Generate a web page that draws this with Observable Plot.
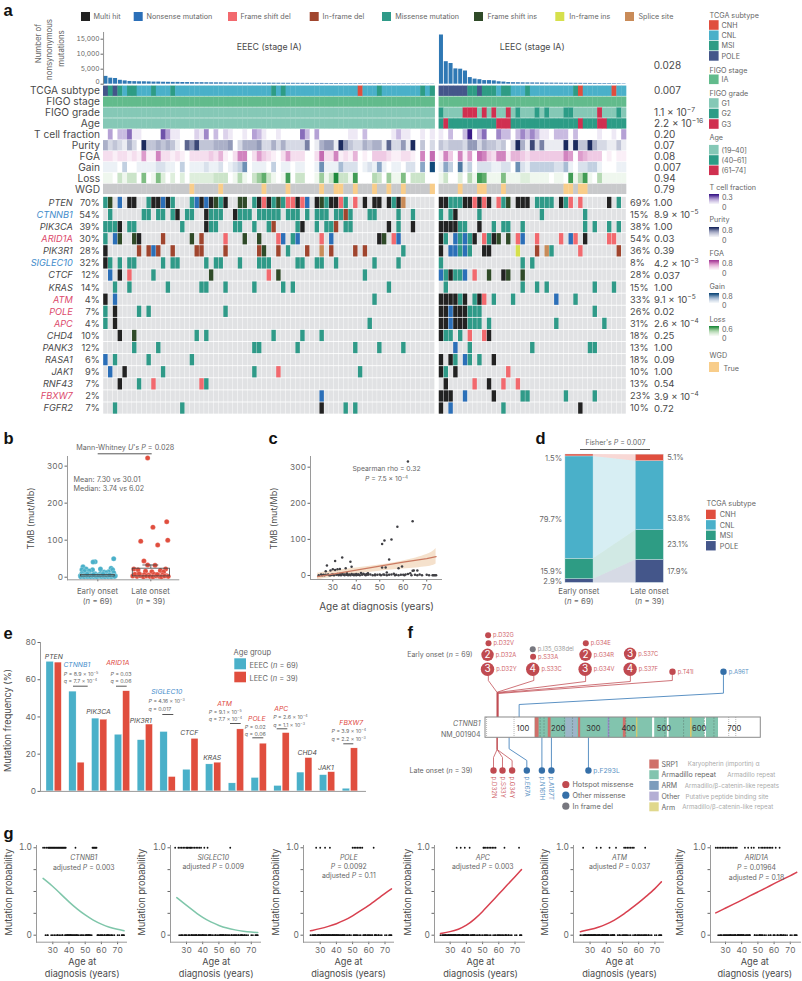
<!doctype html>
<html><head><meta charset="utf-8">
<script src="https://cdn.jsdelivr.net/npm/d3@7"></script>
<script src="https://cdn.jsdelivr.net/npm/@observablehq/plot@0.6"></script>
<style>
html,body{margin:0;padding:0;background:#fff}
#page{position:relative;width:802px;height:981px;overflow:hidden}
#page svg{position:absolute;overflow:visible}
</style></head><body><div id="page"></div>
<script>
const FONT = "Inter, 'Open Sans', sans-serif";
const GREY = "#4a4a4a", MID = "#666", AXIS = "#9a9a9a";

/* ---------- panel a data ---------- */
const mutationNames = ["Multi hit","Nonsense mutation","Frame shift del","In-frame del","Missense mutation","Frame shift ins","In-frame ins","Splice site"];
const mutationCodes = ["K","N","F","I","M","S","Y","P"];
const mutationColors = ["#222222","#2b6fb8","#f2696e","#a0452e","#2f9a88","#2f4a28","#d6e04c","#c98b58"];
const geneNames = ["PTEN","CTNNB1","PIK3CA","ARID1A","PIK3R1","SIGLEC10","CTCF","KRAS","ATM","POLE","APC","CHD4","PANK3","RASA1","JAK1","RNF43","FBXW7","FGFR2"];
const geneTone = ["g","b","g","r","g","b","g","g","r","r","r","g","g","g","g","g","r","g"];
const earlyPct = ["70%","54%","39%","30%","28%","32%","12%","14%","4%","7%","4%","10%","12%","6%","9%","7%","2%","7%"];
const latePct = ["69%","15%","38%","54%","36%","8%","28%","15%","33%","26%","31%","18%","13%","18%","10%","13%","23%","10%"];
const geneP = ["1.00","8.9 × 10^−5^","1.00","0.03","0.39","4.2 × 10^−3^","0.037","1.00","9.1 × 10^−5^","0.02","2.6 × 10^−4^","0.25","1.00","0.09","1.00","0.54","3.9 × 10^−4^","0.72"];
const earlyCalls = [
"0M 1S 3N 5K 6K 9M 10K 11K 12N 13K 14M 18M 19N 20K 21N 22K 23S 24M 25K 28S 29S 31M 32K 33F 34K 35M 36S 37M 38F 39F 40K 41F 42N 44K 45S 46M 47K 48K 49F 50M 52F 54K 56K 57K 59K 60M 61K 62P",
"1M 8M 9M 11M 12M 14M 15K 17M 18M 21K 22M 23M 24M 27K 28M 29M 30M 32M 33M 34M 35M 36M 38M 39M 40M 42M 44M 45M 46M 48M 49M 50I 51M 55M 56M 61M 64M",
"0M 1M 2M 3K 5M 6M 16M 21K 22M 23M 27M 28M 31M 34M 35I 40M 41K 44M 46M 47M 48I 50M 51M 59K 61M 64K",
"0M 2N 3S 6S 7K 12I 18S 20I 25F 29S 32S 36F 37N 39M 40N 45F 47N 57K 58S 60F 61N",
"0K 7I 9I 10N 11I 14I 19I 20I 25I 32I 33S 36I 38M 42I 45P 47I 52I 54I 62M",
"0K 1M 3M 5M 6M 12M 14M 15M 21M 23M 24M 28M 32M 33M 34M 40M 41M 44M 45M 48M 56M 61M",
"1N 3K 5F 10M 22S 34F 36S 54M",
"2M 5M 13M 20M 21M 25M 31M 37M 39M 59M",
"0K 2N 56M","0M 2K 7M 9M 25M","0M 2K 55M",
"3K 6S 19M 21M 35M 41M 45M","6M 11M 31M 32M 40M 52M 57M 62M","0N 2M 9M 18M",
"1N 4K 12M 31M 36F 53M","3K 7M 10F 20F 21M","45N","2M 16M 45K 50M 52M"];
const lateCalls = [
"0K 1K 2M 3M 4M 5K 6K 7F 8K 9F 10K 12F 13M 14S 16K 17K 18K 20M 21M 22M 23M 25K 26M 27F 29F 35K 37M",
"0M 2M 3K 8M 21M 30M",
"0K 1K 2K 3K 4M 5M 8K 11M 13M 14M 17M 30M 32M 35M 37M",
"0K 1M 3N 4M 5N 6M 7K 9F 10M 11K 12S 14S 16F 17N 20F 25F 27N 28F 30K 35F 36F",
"0K 2N 3N 4M 5N 6M 9K 10K 16Y 20I 22P 23M 29F 37I",
"0M 17M 19M",
"0N 1M 2K 3M 4M 5N 7F 10S 13K 14S 17S",
"1M 17M 20M 22M 32M 36M",
"0K 1K 2K 3K 4M 5K 7M 8K 9F 11M 15M 24N 28M",
"0K 1K 2N 3K 4K 5K 6M 7M 8M 32M",
"0K 1K 2N 3K 4K 5K 6M 7M 8M 10M 24M 34M",
"0K 1M 2M 4M 6F 9F 10K",
"3N 6M 19M 31M 32M",
"0K 2K 3M 5N 6M 8M 11K",
"0K 1M 3K 14F",
"1K 7F 10K 13F 16F",
"0K 1K 2K 5N 11K 17M 18M 26M 32M",
"0K 2N 13M 29K"];
const earlyCounts = [2600,2000,1900,1300,1100,900,850,800,800,750,700,700,650,620,600,600,560,550,520,500,500,480,460,450,450,430,420,400,400,390,380,370,360,350,340,330,320,310,300,300,290,280,270,260,250,250,240,230,220,210,200,200,190,190,180,170,170,160,150,150,140,130,130,120,110,100,100,90,80];
const lateCounts = [16400,7500,6900,5100,5000,4400,2200,1700,1500,1200,1200,1100,800,700,550,500,480,450,430,420,400,380,360,350,340,320,310,300,290,280,260,250,240,220,210,200,180,160,130];
const trackNames = ["TCGA subtype","FIGO stage","FIGO grade","Age","T cell fraction","Purity","FGA","Gain","Loss","WGD"];
const trackP = ["0.007","","1.1 × 10^−7^","2.2 × 10^−16^","0.20","0.07","0.08","0.007","0.94","0.79"];
const subtypeEarly = "0P 1M 2P 3M 5M 6M 10M 14M 35M 37M 53H 57M 66M 68M";
const subtypeLate = "0P 1P 2P 3P 4P 5P 6M 7M 8P 9M 10M 11M 13M 14M 18M 28M 29H 36H";
const gradeLate = "0B 5C 6C 7C 9C 11C 14C 16B 20B 22B 26B 27B 33C 37B";
const ageLate = "0B 1C 12C 13C 14C 29C 33C 34C";
const wgdEarly = [18,24,33,38,45,48,49,52,56,59,62,68];
const wgdLate = [4,8,9,13,26,27,29,30];
const tcellLevels = ["040336110000741100021503021001043100100006304000000110300000131100101","103003903600533035353110333030000100104"];
const purityLevels = ["423214209334343107583334445024445224242222601455195322434417225190302","323332552433230294182611119193394221131"];
const fgaLevels = ["221221215116221210222232410266025321025222002722612140103332112210607","163061507632661443233333336505433301011"];
const gainLevels = ["111030011112211030111211201236011103011011001611142220121510110220509","153071302221122062133333224102233100011"];
const lossLevels = ["110313306016202020222223330141035731018033001513933180004305116033300","130020418711161112211110110814810411111"];
const subtypeNames = ["CNH","CNL","MSI","POLE"];
const subtypeColors = ["#e04e3e","#4ab0c9","#2e9c84","#44568a"];
const gradeColors = ["#85c8b6","#2c9c86","#d03050"];
const stageColor = "#62bb8c";
const ramps = {
  tcell:["#ffffff","#cbbde2","#8a6cbc","#3a1a88"],
  purity:["#ffffff","#c2c6d8","#7e86aa","#1c2a5e"],
  fga:["#ffffff","#f1cfe6","#d483bf","#a63c98"],
  gain:["#ffffff","#c8d4e4","#6d90b8","#124a7a"],
  loss:["#ffffff","#d0e6cc","#84c184","#1f8a3e"]
};

/* ---------- panel b / c data ---------- */
const earlyJitter = [0.30,-0.05,-0.09,-0.28,-0.22,0.05,-0.30,-0.10,0.25,0.28,-0.25,-0.16,0.12,0.20,0.30,0.16,-0.30,-0.18,-0.05,0.05,-0.33,-0.30,-0.27,-0.24,-0.21,-0.18,-0.15,-0.12,-0.09,-0.06,-0.03,0,0.03,0.06,0.09,0.12,0.15,0.18,0.21,0.24,0.27,0.30,0.33,-0.32,-0.28,-0.25,-0.22,-0.19,-0.16,-0.13,-0.10,-0.07,-0.04,-0.01,0.02,0.05,0.08,0.11,0.14,0.17,0.20,0.23,0.26,0.29,0.32,-0.20,-0.08,0.10,0.22];
const earlyTMB = [50,42,41,28,22,22,20,20,24,20,16,17,14,15,12,12,10,10,9,10,4,5,3,6,4,7,3,5,6,2,4,5,3,6,2,5,3,7,4,2,5,3,4,1,2,1,3,1,2,1,3,1,2,1,3,2,1,2,1,3,1,2,1,3,2,8,7,8,6];
const lateJitter = [-0.06,0.30,0.04,0.32,-0.19,0.13,-0.13,-0.06,0.08,-0.32,0.28,-0.24,0.18,-0.10,0.02,0.24,-0.28,-0.18,-0.12,-0.04,0.06,0.14,0.22,0.30,-0.34,-0.26,-0.20,-0.14,-0.08,-0.02,0.04,0.10,0.16,0.20,0.26,0.33,-0.30,-0.22,0.12];
const lateTMB = [322,150,135,100,97,87,44,33,32,22,22,20,18,16,15,14,6,5,7,6,8,5,6,4,3,2,4,1,3,2,1,3,2,1,3,2,8,9,7];
const boxEarly = [1.8,6.2], boxLate = [2.2,23];
const cAges = [24,25,25.5,26,26.5,27,27.5,28,28.5,29,29.5,30,30,30.5,31,31,31.5,32,32,32.5,33,33,33.5,34,34,34.5,35,35,35.5,36,36,36.5,37,37.5,37.5,38,38,38.5,39,39,39.5,40,40,40.5,41,41.5,42,42.5,43,43.5,44,44.5,45,45,46,47,48,49,50,50.5,51,51,51.5,52,52,52.5,53,53,54,54,55,55,56,56.5,57,57.5,58,58,59,59.5,60,60.5,61,62,62,63,63.5,64,64,64.5,65,66,66,67,68,70,71,72.5,73,73.5,74,27,29,33,36,41,44,48];
const cTMB = [1,3,1,2,0.5,12,28,3,1,14,2,17,3,1,40,15,2,17,4,1,18,3,1,50,5,2,3,1,20,2,6,1,3,38,1,24,4,2,3,1,2,4,1,2,3,1,7,2,5,3,2,4,6,2,3,1,1,2,3,1,87,22,3,97,2,22,1,8,44,2,100,3,5,1,2,135,20,1,2,25,2,1,3,316,4,6,1,150,13,14,2,14,1,3,1,2,1,0.5,1,1,1,2,1,4,3,2,1,3];
const fitAges = [23.5,30,40,50,60,70,74];
const fitMean = [-3,4,15,26,37,47,52];
const fitLow = [-12,-5,4,12,18,24,32];
const fitHigh = [6,13,21,29,40,58,75];

/* ---------- panel d ---------- */
const stackOrder = ["POLE","MSI","CNL","CNH"];
const earlyShares = [2.9,15.9,79.7,1.5];
const lateShares = [17.9,23.1,53.8,5.1];

/* ---------- panel e ---------- */
const eGenes = ["PTEN","CTNNB1","PIK3CA","ARID1A","PIK3R1","SIGLEC10","CTCF","KRAS","ATM","POLE","APC","CHD4","JAK1","FBXW7"];
const eEarly = [69.6,53.6,39.1,30.4,27.5,31.9,11.6,14.5,4.3,7.2,2.9,10.1,8.7,1.4];
const eLate = [69.2,15.4,38.5,53.8,35.9,7.7,28.2,15.4,33.3,25.6,31.3,17.9,10.3,23.1];

/* ---------- panel f ---------- */
const heads = [
 {t:"p.D32G",x:7.4,y:634.7,r:3,k:"h"},{t:"p.D32V",x:8.5,y:642.7,r:3,k:"h"},{t:"p.D32A",x:5.7,y:654.3,r:6.2,n:"2",k:"h"},{t:"p.D32Y",x:5.7,y:668.7,r:6.7,n:"3",k:"h"},
 {t:"p.I35_G38del",x:134,y:648.7,r:3,k:"d"},{t:"p.S33A",x:135,y:656.3,r:3,k:"h"},{t:"p.S33C",x:134,y:668.7,r:6.7,n:"4",k:"h"},
 {t:"p.G34E",x:284.5,y:642.7,r:3,k:"h"},{t:"p.G34R",x:283.7,y:654.3,r:6.2,n:"2",k:"h"},{t:"p.G34V",x:282.6,y:668.7,r:6.7,n:"3",k:"h"},
 {t:"p.S37C",x:410.2,y:653.3,r:6.2,n:"3",k:"h"},{t:"p.S37F",x:410.2,y:668.7,r:6.7,n:"4",k:"h"},
 {t:"p.T41I",x:530.5,y:671.3,r:3.2,k:"h"},{t:"p.A96T",x:675.2,y:671.3,r:3.2,k:"o"}];
const lateHeads = [
 {t:"p.D32N",x:22.7,k:"h"},{t:"p.S33Y",x:48.2,k:"h"},{t:"p.G34Y",x:75.5,k:"h"},
 {t:"p.E67A",x:117.2,k:"o"},{t:"p.N161H",x:160,k:"o"},{t:"p.A187T",x:187,k:"o"},{t:"p.F293L",x:292,k:"o"}];
const hotspotColor = "#c04a50", otherColor = "#356fa8", delColor = "#77777f";
const redRoutes = [[[8,675],[8,680],[33,692],[33,717]],[[137,675],[137,680],[33,691.7],[33,717]],[[284,675],[284,681],[34,692],[34,717]],[[411,675],[411,681],[35,692.5],[35,717]],[[530,675],[530,680],[36,693],[36,717]],
  [[33,737],[33,749],[22.7,757],[22.7,770]],[[33,737],[33,749],[48.2,757],[48.2,770]],[[33,737],[33,749],[75.5,760],[75.5,770]]];
const blueRoutes = [[[675,675],[675,692.7],[95.4,704],[95.4,717]],[[67,737],[67,748.3],[117.2,760],[117.2,770]],[[160,737],[160,770]],[[187,737],[187,770]],[[292,737],[292,770]]];
const armSpans = [[141,474],[480,516],[521,622],[627,661]];
const srpSpans = [[141,152],[178,186],[264,270],[391,399]];
const armBlue = [[228,245],[245,261]];
const otherMarks = [[348,352]];
const armYellow = [[429,432],[582,586]];
const darkMarks = [155,166,224,247,350,398,509,562,621,648];
const dottedMarks = [3,81,690,710];
const aaTicks = [100,200,300,400,500,600,700];
const domainLegend = [["SRP1","Karyopherin (importin) α","#d0706a",687.3],["Armadillo repeat","Armadillo repeat","#82c4ae",726.7],["ARM","Armadillo/β-catenin-like repeats","#7c9cbc",684.3],["Other","Putative peptide binding site","#b4aed4",685],["Arm","Armadillo/β-catenin-like repeat","#e0d88c",681.7]];

/* ---------- panel g ---------- */
const curveAges = [24,30,35,40,45,50,55,60,65,70,74];
const gGenes = ["CTNNB1","SIGLEC10","POLE","APC","ATM","ARID1A"];
const gCurves = [
 [.65,.56,.47,.38,.30,.23,.17,.125,.09,.066,.05],
 [.43,.34,.27,.20,.15,.11,.08,.06,.045,.035,.03],
 [.05,.075,.10,.13,.17,.22,.28,.34,.41,.48,.53],
 [.02,.04,.065,.11,.18,.27,.37,.47,.57,.67,.75],
 [.04,.065,.09,.125,.17,.23,.30,.37,.45,.53,.61],
 [.255,.31,.355,.40,.45,.495,.54,.59,.635,.68,.72]];
const gColors = ["#7fc6aa","#7fc6aa","#d8404f","#d8404f","#d8404f","#d8404f"];
const gMutated = [
 [24,25,26,27,27.5,28,28.5,29,29.5,30,30.5,31,31.5,32,32.5,33,33.5,34,34.5,35,35.5,36,36.5,37,37.5,38,44,54.5,55,55.5,56,56.5,57],
 [23,25,26,27,28,29,30,30.5,31,32,32.5,33,34,35,36,37,38,39,41,43,57],
 [27.5,30,33,36,50,51,52,53,54,55,56,63],
 [34,36.5,39,42,50.5,51,52,53,54,55,56,57,58,63.5,72.5],
 [25.7,34,36.6,42,46,51,52,53,54,55,56,57,64],
 [24,25,26,27,28,29,30,31,32,33,34,35,36,37,42,44,46,47.5,50.6,52,53,54,55,56,57,58,59,61,63.4]];
const gAxisX = [35.7,170,303.3,434.3,572.7,710];
const gX30 = [52,186,320,450,589.3,725];

/* ---------- helpers ---------- */
const page = document.getElementById("page");
function rich(svg){
  svg.querySelectorAll("text,tspan").forEach(n=>{
    if(n.children.length) return;
    const s=n.textContent; if(!/[~^]/.test(s)) return;
    n.textContent=""; let it=false,sup=false;
    s.split(/([~^])/).forEach(p=>{
      if(p==="~"){it=!it;return} if(p==="^"){sup=!sup;return} if(!p) return;
      const t=document.createElementNS("http://www.w3.org/2000/svg","tspan");
      t.textContent=p;
      if(it) t.setAttribute("font-style","italic");
      if(sup){t.setAttribute("baseline-shift","super");t.setAttribute("font-size","68%")}
      n.appendChild(t);
    });
  });
}
function place(frame,pad,opts){
  const [x0,y0,x1,y1]=frame,[l,t,r,b]=pad;
  const svg=Plot.plot({width:x1-x0+l+r,height:y1-y0+t+b,marginLeft:l,marginTop:t,marginRight:r,marginBottom:b,...opts,
    style:{background:"transparent",fontFamily:FONT,color:MID,overflow:"visible"}});
  svg.style.left=(x0-l)+"px"; svg.style.top=(y0-t)+"px";
  page.appendChild(svg); rich(svg); return svg;
}
const parseCalls=(s)=>s.split(" ").filter(Boolean).map(w=>[+w.match(/\d+/)[0],w.replace(/\d+/,"")]);
const N1=69,N2=39,GAP=0.83;
const colL=(g,c)=>g===0?c:N1+GAP+c;

/* ---------- panel a: bars ---------- */
const barData=[...earlyCounts.map((v,i)=>({c:colL(0,i),v})),...lateCounts.map((v,i)=>({c:colL(1,i),v}))];
const colDomain=[0,N1+GAP+N2];
place([102.7,32,625.7,83.7],[40,2,4,2],{
  x:{domain:colDomain,axis:null},y:{domain:[0,17233],axis:null},
  marks:[
    Plot.rectY(barData,{x1:"c",x2:d=>d.c+1,y1:0,y2:"v",fill:"#2f78b4",insetLeft:.4,insetRight:.4}),
    Plot.axisY({ticks:[0,5000,10000,15000],tickFormat:d=>d===0?"":d3.format(",")(d),tickSize:2.5,tickPadding:1.5,fontSize:6.6,label:null}),
    Plot.text([0],{y:d=>d,text:d=>String(d),frameAnchor:"left",textAnchor:"end",dx:-4,dy:-2.5,fontSize:6.6,fill:MID}),
    Plot.frame({anchor:"left",stroke:"#777",strokeWidth:.8})
  ]});

/* ---------- panel a: annotation tracks ---------- */
const trackCells=[];
function addTrack(track,col,fill){trackCells.push({track,col,fill})}
const subtypeFill={H:subtypeColors[0],C:subtypeColors[1],M:subtypeColors[2],P:subtypeColors[3]};
function expand(n,def,str){const a=Array(n).fill(def);parseCalls(str).forEach(([i,k])=>a[i]=k);return a}
[[expand(N1,"C",subtypeEarly),0],[expand(N2,"C",subtypeLate),1]].forEach(([a,g])=>a.forEach((k,i)=>addTrack("TCGA subtype",colL(g,i),subtypeFill[k])));
for(const [n,g] of [[N1,0],[N2,1]]) for(let i=0;i<n;i++) addTrack("FIGO stage",colL(g,i),stageColor);
const grFill={A:gradeColors[0],B:gradeColors[1],C:gradeColors[2]};
for(let i=0;i<N1;i++){addTrack("FIGO grade",i,gradeColors[0]);addTrack("Age",i,gradeColors[0])}
expand(N2,"A",gradeLate).forEach((k,i)=>addTrack("FIGO grade",colL(1,i),grFill[k]));
expand(N2,"B",ageLate).forEach((k,i)=>addTrack("Age",colL(1,i),grFill[k]));
[["T cell fraction",tcellLevels,ramps.tcell],["Purity",purityLevels,ramps.purity],["FGA",fgaLevels,ramps.fga],["Gain",gainLevels,ramps.gain],["Loss",lossLevels,ramps.loss]].forEach(([name,lv,ramp])=>{
  const f=d3.interpolateRgbBasis(ramp);
  lv.forEach((s,g)=>[...s].forEach((ch,i)=>addTrack(name,colL(g,i),f(+ch/9))));
});
for(let i=0;i<N1;i++) addTrack("WGD",i,wgdEarly.includes(i)?"#f8cd8a":"#c8c9cb");
for(let i=0;i<N2;i++) addTrack("WGD",colL(1,i),wgdLate.includes(i)?"#f8cd8a":"#c8c9cb");
place([102.7,84.5,625.7,194.1],[100,2,120,2],{
  x:{domain:colDomain,axis:null},y:{domain:trackNames,axis:null,padding:.05,round:false},
  marks:[
    Plot.barX(trackCells,{x1:"col",x2:d=>d.col+1.07,y:"track",fill:"fill"}),
    Plot.text(trackNames,{y:d=>d,text:d=>d,frameAnchor:"left",textAnchor:"end",dx:-3.5,fontSize:10.2,fill:GREY}),
    Plot.text(trackNames.map((d,i)=>({d,p:trackP[i]})),{y:"d",text:"p",frameAnchor:"right",textAnchor:"start",dx:27.6,fontSize:10,fill:GREY})
  ]});

/* ---------- panel a: oncoplot ---------- */
const bg=[],hits=[];
geneNames.forEach((gene,r)=>{
  for(let i=0;i<N1;i++) bg.push({gene,col:i});
  for(let i=0;i<N2;i++) bg.push({gene,col:colL(1,i)});
  const code=k=>mutationColors[mutationCodes.indexOf(k)];
  parseCalls(earlyCalls[r]).forEach(([i,k])=>hits.push({gene,col:i,fill:code(k)}));
  parseCalls(lateCalls[r]).forEach(([i,k])=>hits.push({gene,col:colL(1,i),fill:code(k)}));
});
const toneColor={g:"#4a4a4a",b:"#3f8ccb",r:"#dc4a6c"};
const geneRows=geneNames.map((gene,i)=>({gene,c:toneColor[geneTone[i]],a:earlyPct[i],b:latePct[i],p:geneP[i],it:"~"+gene+"~"}));
place([102.7,195.9,625.7,414.4],[100,2,120,2],{
  x:{domain:colDomain,axis:null},y:{domain:geneNames,axis:null,padding:.07,round:false},
  marks:[
    Plot.barX(bg,{x1:"col",x2:d=>d.col+1,y:"gene",fill:"#e1e2e4",insetLeft:.2,insetRight:.2}),
    Plot.barX(hits,{x1:"col",x2:d=>d.col+1,y:"gene",fill:"fill",insetLeft:.2,insetRight:.2}),
    Plot.text(geneRows,{y:"gene",text:"it",fill:"c",frameAnchor:"left",textAnchor:"end",dx:-30.7,fontSize:9.2}),
    Plot.text(geneRows,{y:"gene",text:"a",frameAnchor:"left",textAnchor:"end",dx:-3.7,fontSize:9.2,fill:GREY}),
    Plot.text(geneRows,{y:"gene",text:"b",frameAnchor:"right",textAnchor:"start",dx:3.6,fontSize:9.2,fill:GREY}),
    Plot.text(geneRows,{y:"gene",text:"p",frameAnchor:"right",textAnchor:"start",dx:27.6,fontSize:9.6,fill:GREY})
  ]});

/* ---------- panel b ---------- */
const bPoints=[...earlyTMB.map((v,i)=>({x:earlyJitter[i],v,f:subtypeColors[1]})),...lateTMB.map((v,i)=>({x:1+lateJitter[i],v,f:subtypeColors[0]}))];
place([66.7,456,178,579.3],[34,2,4,16],{
  x:{domain:[-0.572,1.528],axis:null},y:{domain:[-7,326],axis:null},
  marks:[
    Plot.dot(bPoints,{x:"x",y:"v",r:2.5,fill:"f",stroke:"#fff",strokeWidth:.2}),
    Plot.rect([{a:-.32,b:.32,l:boxEarly[0],h:boxEarly[1]},{a:.66,b:1.36,l:boxLate[0],h:boxLate[1]}],{x1:"a",x2:"b",y1:"l",y2:"h",stroke:"#444",strokeWidth:.8}),
    Plot.ruleY([33],{x1:.85,x2:1.15,stroke:"#444",strokeWidth:.8}),
    Plot.ruleX([1],{y1:23,y2:33,stroke:"#444",strokeWidth:.8}),
    Plot.axisY({ticks:[0,100,200,300],tickSize:2.5,tickPadding:2,fontSize:8.2,label:null}),
    Plot.axisX({ticks:[0,1],tickFormat:()=>"",tickSize:2}),
    Plot.frame({anchor:"left",stroke:AXIS,strokeWidth:1}),Plot.frame({anchor:"bottom",stroke:AXIS,strokeWidth:1})
  ]});

/* ---------- panel c ---------- */
const cPts=cAges.map((a,i)=>({a,v:cTMB[i]}));
const fit=fitAges.map((a,i)=>({a,m:fitMean[i],l:fitLow[i],h:fitHigh[i]}));
place([310,456,441,579],[34,2,4,16],{
  x:{domain:[20.5,76.3],axis:null},y:{domain:[-11.1,329.6],axis:null},
  marks:[
    Plot.areaY(fit,{x:"a",y1:"l",y2:"h",fill:"#f3dcc3",fillOpacity:.85,curve:"natural"}),
    Plot.dot(cPts,{x:"a",y:"v",r:1.25,fill:"#3f3f44"}),
    Plot.line(fit,{x:"a",y:"m",stroke:"#cb7a62",strokeWidth:1.3}),
    Plot.axisY({ticks:[0,100,200,300],tickSize:2.5,tickPadding:2,fontSize:8.2,label:null}),
    Plot.axisX({ticks:[30,40,50,60,70],tickSize:2.5,tickPadding:2,fontSize:8.2,label:null}),
    Plot.frame({anchor:"left",stroke:AXIS,strokeWidth:1}),Plot.frame({anchor:"bottom",stroke:AXIS,strokeWidth:1})
  ]});

/* ---------- panel d ---------- */
const subtypeColorOf=Object.fromEntries(subtypeNames.map((s,i)=>[s,subtypeColors[i]]));
const dBars=[],dFlows=[];
let e0=0,l0=0;
stackOrder.forEach((s,i)=>{
  const e1=e0+earlyShares[i],l1=l0+lateShares[i];
  dBars.push({s,a:-.2,b:.2,y1:e0,y2:e1},{s,a:.8,b:1.2,y1:l0,y2:l1});
  dFlows.push({s,x:.2,y1:e0,y2:e1},{s,x:.8,y1:l0,y2:l1});
  e0=e1;l0=l1;
});
place([560,454.3,668,582.7],[4,2,4,4],{
  x:{domain:[-.27,1.266],axis:null},y:{domain:[0,100],axis:null},
  marks:[
    Plot.areaY(dFlows,{x:"x",y1:"y1",y2:"y2",z:"s",fill:d=>subtypeColorOf[d.s],fillOpacity:.22}),
    Plot.rect(dBars,{x1:"a",x2:"b",y1:"y1",y2:"y2",fill:d=>subtypeColorOf[d.s],stroke:"#d7e8ee",strokeWidth:.4})
  ]});

/* ---------- panel e ---------- */
const eBars=eGenes.flatMap((g,i)=>[{a:i,b:i+.32,v:eEarly[i],f:subtypeColors[1]},{a:i+.365,b:i+.67,v:eLate[i],f:subtypeColors[0]}]);
place([40,642.3,365,791.2],[30,2,2,4],{
  x:{domain:[-.263,14.0],axis:null},y:{domain:[0,80],axis:null},
  marks:[
    Plot.rectY(eBars,{x1:"a",x2:"b",y1:0,y2:"v",fill:"f",stroke:"#fff",strokeWidth:.3}),
    Plot.axisY({ticks:[0,20,40,60,80],tickSize:2.5,tickPadding:2,fontSize:8.2,label:null}),
    Plot.frame({anchor:"left",stroke:AXIS,strokeWidth:1}),Plot.frame({anchor:"bottom",stroke:AXIS,strokeWidth:1})
  ]});

/* ---------- panel f ---------- */
const kindColor={h:hotspotColor,o:otherColor,d:delColor};
const textColor={h:"#d0666b",o:"#5b92c4",d:"#999"};
const routeRows=(rs,c)=>rs.flatMap((r,i)=>r.map(([x,y])=>({x,y,id:c+i,c})));
const spanRect=(sp,fill)=>sp.map(([a,b])=>({a,b,fill}));
const protein=[...spanRect(armSpans,"#82c4ae"),...spanRect(armBlue,"#9db5c9"),...spanRect(srpSpans,"#d0706a"),...spanRect(otherMarks,"#9b8fd0"),...spanRect(armYellow,"#e8c860")];
const numHeads=heads.filter(d=>d.n);
const lateRows=lateHeads.map(d=>({...d,y:770,r:3.2}));
const fY0=717,fY1=737.3;
place([484.7,625,760,812],[10,2,2,2],{
  x:{domain:[0,781],axis:null},y:{domain:[812,625],axis:null},r:{type:"identity"},
  marks:[
    Plot.line(routeRows(redRoutes,"r"),{x:"x",y:"y",z:"id",stroke:hotspotColor,strokeWidth:.9,strokeOpacity:.85}),
    Plot.line(routeRows(blueRoutes,"b"),{x:"x",y:"y",z:"id",stroke:"#5b92c4",strokeWidth:1}),
    Plot.rect([{a:0,b:781}],{x1:"a",x2:"b",y1:fY0,y2:fY1,fill:"#fff"}),
    Plot.rect(protein,{x1:"a",x2:"b",y1:fY0,y2:fY1,fill:"fill"}),
    Plot.ruleX(darkMarks,{y1:fY0,y2:fY1,stroke:"#5a6e68",strokeWidth:.6,strokeOpacity:.7,strokeDasharray:"2 1"}),
    Plot.ruleX(dottedMarks,{y1:fY0,y2:fY1,stroke:"#999",strokeWidth:.7,strokeDasharray:"1 1"}),
    Plot.rect([{a:0,b:781}],{x1:"a",x2:"b",y1:fY0,y2:fY1,fill:"none",stroke:"#8a8a8a",strokeWidth:1}),
    Plot.text(aaTicks,{x:d=>d+6,y:727.6,text:d=>String(d),fontSize:7.6,fill:"#333"}),
    Plot.dot(heads,{x:"x",y:"y",r:"r",fill:d=>kindColor[d.k]}),
    Plot.text(numHeads,{x:"x",y:"y",text:"n",fill:"#fff",fontSize:10}),
    Plot.text(heads,{x:d=>d.x+(d.r+2)/.3525,y:"y",text:"t",textAnchor:"start",fontSize:5.8,fill:d=>textColor[d.k]}),
    Plot.dot(lateRows,{x:"x",y:"y",r:"r",fill:d=>kindColor[d.k]}),
    Plot.text(lateRows.slice(0,6),{x:"x",y:776,text:"t",rotate:90,textAnchor:"start",fontSize:6.2,fill:d=>textColor[d.k]}),
    Plot.text(lateRows.slice(6),{x:d=>d.x+14,y:"y",text:"t",textAnchor:"start",fontSize:6.8,fill:d=>textColor[d.k]}),
    Plot.dot([{k:"h",y:784},{k:"o",y:794.7},{k:"d",y:805.7}],{x:227.8,y:"y",r:3.6,fill:d=>kindColor[d.k]})
  ]});

/* ---------- panel g ---------- */
gGenes.forEach((g,i)=>{
  const d0=30-(gX30[i]-gAxisX[i])/1.62,d1=d0+90/1.62;
  const rest=cAges.slice();
  gMutated[i].forEach(a=>{let k=-1,b=1e9;rest.forEach((r,j)=>{if(Math.abs(r-a)<b){b=Math.abs(r-a);k=j}});if(b<1.2)rest.splice(k,1)});
  place([gAxisX[i],845,gAxisX[i]+90,941.7],[26,2,2,14],{
    x:{domain:[d0,d1],axis:null},y:{domain:[-.08,1.026],axis:null},
    marks:[
      Plot.dot(gMutated[i],{x:d=>d,y:1,r:.9,fill:"#111"}),
      Plot.dot(rest,{x:d=>d,y:0,r:.9,fill:"#111"}),
      Plot.line(curveAges.map((a,j)=>({a,v:gCurves[i][j]})),{x:"a",y:"v",stroke:gColors[i],strokeWidth:1.5,curve:"basis"}),
      Plot.axisY({ticks:[0,.25,.5,.75,1],tickFormat:d=>d===1?"1.0":d===0?"0":"",tickSize:2.5,tickPadding:2,fontSize:8.4,label:null}),
      Plot.axisX({ticks:[30,40,50,60,70],tickSize:2.5,tickPadding:2,fontSize:8.2,label:null}),
      Plot.frame({anchor:"left",stroke:AXIS,strokeWidth:1}),Plot.frame({anchor:"bottom",stroke:AXIS,strokeWidth:1})
    ]});
});

/* ---------- page-level labels, legends, brackets ---------- */
const T=[],R=[],L=[];
const t=(x,y,s,fs,a="start",c=GREY,r=0)=>T.push({x,y,s,fs,a,c,r});
const swatch=(x1,y1,x2,y2,f)=>R.push({x1,y1,x2,y2,f});
const rule=(x1,x2,y)=>L.push({x1,x2,y});
const legendTop=[[81,93],[133.7,146],[228,240],[309.7,322],[382,394.7],[474,487],[555.3,568.7],[625,638]];
mutationNames.forEach((n,i)=>{const [a,b]=legendTop[i];swatch(a,12,a+9,21,mutationColors[i]);t(b,16.4,n,7.2,"start",MID)});
t(268.7,46.3,"EEEC (stage IA)",8.8,"middle");t(531.7,46.3,"LEEC (stage IA)",8.8,"middle");
t(653.3,65.5,"0.028",10);
t(38,43,"Number of",7.8,"middle",MID,-90);t(49,49,"nonsynonymous",7.8,"middle",MID,-90);t(60.7,48,"mutations",7.8,"middle",MID,-90);
const lx=709,ltx=721;
const lh=(y,s)=>t(lx,y,s,7.2,"start",MID);
const li=(y,s,c)=>{swatch(lx,y-4.8,lx+9.6,y+4.8,c);t(ltx,y,s,7.2,"start",MID)};
lh(15,"TCGA subtype");subtypeNames.forEach((s,i)=>li(25+i*10.3,s,subtypeColors[i]));
lh(69.7,"FIGO stage");li(79.3,"IA",stageColor);
lh(93,"FIGO grade");["G1","G2","G3"].forEach((s,i)=>li(103+i*10.5,s,gradeColors[i]));
lh(137,"Age");["(19–40]","(40–61]","(61–74]"].forEach((s,i)=>li(149.7+i*10.3,s,gradeColors[i]));
const gradient=(title,tY,top,ramp,topY,botY,y0,y1)=>{
  lh(tY,title);
  t(ltx+.5,topY,top,7.2,"start",MID);t(ltx+.5,botY,"0",7.2,"start",MID);
  const f=d3.interpolateRgbBasis(ramp);
  d3.range(12).forEach(k=>swatch(lx,y0+(y1-y0)*k/12,lx+10,y0+(y1-y0)*(k+1)/12+.2,f(1-k/11)));
};
gradient("T cell fraction",187,"0.3",ramps.tcell,197.3,207,194,205);
gradient("Purity",219.3,"0.8",ramps.purity,230,240,227,238);
gradient("FGA",252.7,"0.8",ramps.fga,263,272.7,260,271);
gradient("Gain",285.7,"0.8",ramps.gain,296,305,293,304);
gradient("Loss",318.7,"0.6",ramps.loss,329,338,326,337);
lh(355,"WGD");swatch(lx,362,lx+10,372,"#f8cd8a");t(723,367.7,"True",7.2,"start",MID);

/* b */
t(124.7,446.7,"Mann-Whitney ~U~'s ~P~ = 0.028",7.2,"middle",MID);rule(97.7,151.7,453.3);
t(73,479,"Mean: 7.30 vs 30.01",7.2,"start",MID);t(73,488.6,"Median: 3.74 vs 6.02",7.2,"start",MID);
t(30.7,518,"TMB (mut/Mb)",9,"middle",GREY,-90);
t(97,591,"Early onset",7.8,"middle",MID);t(97,600.5,"(~n~ = 69)",7.8,"middle",MID);
t(150,591,"Late onset",7.8,"middle",MID);t(150,600.5,"(~n~ = 39)",7.8,"middle",MID);
/* c */
t(386,468.7,"Spearman rho = 0.32",6.8,"middle",MID);t(386,478,"~P~ = 7.5 × 10^−4^",6.8,"middle",MID);
t(273.5,518,"TMB (mut/Mb)",9,"middle",GREY,-90);t(376,606,"Age at diagnosis (years)",10,"middle",GREY);
/* d */
t(615,442.3,"Fisher's ~P~ = 0.007",7,"middle",MID);rule(580,650,449);
[[458.3,"1.5%"],[519,"79.7%"],[570.7,"15.9%"],[581,"2.9%"]].forEach(([y,s])=>t(561.7,y,s,7.6,"end",MID));
[[457.3,"5.1%"],[518.3,"53.8%"],[544.3,"23.1%"],[571,"17.9%"]].forEach(([y,s])=>t(666.7,y,s,7.6,"start",MID));
t(578.3,591,"Early onset",7.8,"middle",MID);t(578.3,600.5,"(~n~ = 69)",7.8,"middle",MID);
t(649,591,"Late onset",7.8,"middle",MID);t(649,600.5,"(~n~ = 39)",7.8,"middle",MID);
t(706,503,"TCGA subtype",7.2,"start",MID);
subtypeNames.forEach((s,i)=>{const y=514.4+i*10.45;swatch(706,y-4.7,715.7,y+4.7,subtypeColors[i]);t(719.3,y,s,7.2,"start",MID)});
/* e */
t(8,720,"Mutation frequency (%)",9.2,"middle",GREY,-90);
t(233,652.3,"Age group",7.6,"start",MID);
swatch(234.3,658.3,246,669.3,subtypeColors[1]);swatch(234.3,671.7,246,682.3,subtypeColors[0]);
t(249,665,"EEEC (~n~ = 69)",7.4,"start",MID);t(249,677.7,"LEEC (~n~ = 39)",7.4,"start",MID);
const eB="#3f8ccb",eR="#e0493f",eG="#4a4a4a";
[["PTEN",53.3,656,eG],["CTNNB1",76.3,664.7,eB],["ARID1A",117.3,662.3,eR],["PIK3CA",98,711.3,eG],["PIK3R1",140.3,720.7,eG],["SIGLEC10",166.3,691.3,eB],["CTCF",188.7,732.7,eG],["KRAS",211.7,757,eG],["ATM",224,703,eR],["POLE",256.3,718.7,eR],["APC",280.7,708.3,eR],["CHD4",306.7,752.7,eG],["JAK1",325.3,767.7,eG],["FBXW7",350.7,722,eR]]
 .forEach(([s,x,y,c])=>t(x,y,"~"+s+"~",6.8,"middle",c));
[[63.3,673.3,680.7,"8.9 × 10^−5^","7.7 × 10^−4^",73,87.7,685.7],[110,673.3,680.7,"0.03","0.06",116,126.7,685.7],[148,701,708.3,"4.16 × 10^−3^","0.017",162.3,173.3,714],[208.3,711.7,719,"9.1 × 10^−5^","7.7 × 10^−4^",230,240.7,723],[244.3,726.7,734,"0.02","0.06",252.3,263.3,737.3],[272.7,717,724.3,"2.6 × 10^−4^","1.1 × 10^−3^",276.7,287.3,728.3],[331,731,739,"3.9 × 10^−4^","2.2 × 10^−3^",343.3,353.3,743.3]]
 .forEach(([x,y1,y2,p,q,a,b,y])=>{t(x,y1,"~P~ = "+p,5.3,"start",MID);t(x,y2,"~q~ = "+q,5.3,"start",MID);rule(a,b,y)});
/* f */
t(406.7,654.7,"Early onset (~n~ = 69)",7,"start",MID);t(480,723,"~CTNNB1~",7,"end",MID);t(480,734.7,"NM_001904",7,"end",MID);t(409,770.3,"Late onset (~n~ = 39)",7,"start",MID);
[["Hotspot missense",784],["Other missense",794.7],["In frame del",805.7]].forEach(([s,y])=>t(572,y,s,7.2,"start",MID));
domainLegend.forEach(([a,b,c,x],i)=>{const y=764+i*10.7;swatch(649.3,y-4.5,658.7,y+4.5,c);t(661,y,a,7,"start",MID);t(x,y,b,6.2,"start","#aaa")});
/* g */
const gX=[81.7,215.7,348,480,619,754.3],gY=[8.7,142,276,407.3,545,680];
const gC=[83.3,212.7,348.3,482.3,619,756];
gY.forEach((x,i)=>t(x,891.7,"Mutation probability",9.2,"middle",GREY,-90));
gX.forEach(x=>{t(x,962,"Age at",9.2,"middle",GREY);t(x,973.3,"diagnosis (years)",9.2,"middle",GREY)});
gGenes.forEach((g,i)=>t(gC[i],857.5,"~"+g+"~",6.9,"middle",MID));
t(gC[0],867.7,"adjusted ~P~ = 0.003",6.9,"middle",MID);t(gC[1],866,"adjusted ~P~ = 0.009",6.9,"middle",MID);
t(gC[2],866,"~P~ = 0.0092",6.9,"middle",MID);t(gC[2],875.3,"adjusted ~P~ = 0.11",6.9,"middle",MID);
t(gC[3],866,"adjusted ~P~ = 0.003",6.9,"middle",MID);t(gC[4],866,"adjusted ~P~ = 0.037",6.9,"middle",MID);
t(gC[5],867,"~P~ = 0.01964",6.9,"middle",MID);t(gC[5],877,"adjusted ~P~ = 0.18",6.9,"middle",MID);

const letters=[["a",3,10],["b",3,438],["c",268,438],["d",535,438],["e",3,633],["f",407,632],["g",3,833]];
const byAnchor=a=>T.filter(d=>d.a===a);
const overlay=Plot.plot({width:802,height:981,margin:0,x:{domain:[0,802],axis:null},y:{domain:[0,981],range:[0,981],axis:null},
  style:{background:"transparent",fontFamily:FONT,overflow:"visible",pointerEvents:"none"},
  marks:[
    Plot.rect(R,{x1:"x1",x2:"x2",y1:"y1",y2:"y2",fill:"f"}),
    Plot.ruleY(L,{x1:"x1",x2:"x2",y:"y",stroke:"#444",strokeWidth:.9}),
    ...["start","middle","end"].map(a=>Plot.text(byAnchor(a),{x:"x",y:"y",text:"s",fontSize:"fs",fill:"c",rotate:"r",textAnchor:a})),
    Plot.text(letters,{x:d=>d[1],y:d=>d[2],text:d=>d[0],textAnchor:"start",fontSize:16.5,fontWeight:700,fill:"#111",fontFamily:"'Liberation Sans',sans-serif"})
  ]});
overlay.style.left="0";overlay.style.top="0";page.appendChild(overlay);rich(overlay);
</script></body></html>
